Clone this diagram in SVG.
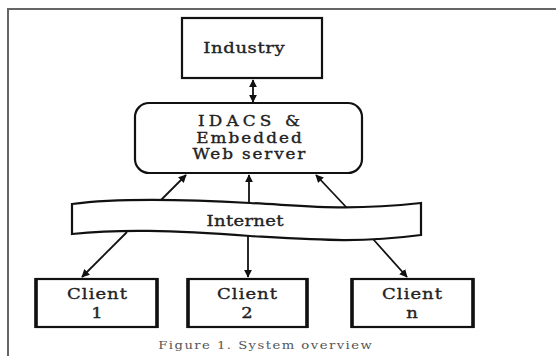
<svg xmlns="http://www.w3.org/2000/svg" width="556" height="356" viewBox="0 0 556 356">
  <style>
    .box { fill: #fff; stroke: #111; stroke-width: 2.2; }
    .client { fill: #fff; stroke: #111; stroke-width: 2.2; }
    .side { stroke: #111; stroke-width: 3.6; }
    .lbl { font-family: "DejaVu Serif", "Liberation Serif", serif; font-size: 15px; fill: #222; stroke: #222; stroke-width: 0.35; text-anchor: middle; }
    .sm { font-size: 14px; }
    .cap { font-family: "DejaVu Serif", "Liberation Serif", serif; font-size: 11px; fill: #555; text-anchor: middle; }
    .conn { stroke: #111; stroke-width: 1.8; fill: none; }
  </style>
  <defs>
    <marker id="head" viewBox="0 0 10 10" refX="9" refY="5" markerWidth="8" markerHeight="8" markerUnits="userSpaceOnUse" orient="auto-start-reverse">
      <path d="M0,0 L10,5 L0,10 Z" fill="#111"/>
    </marker>
  </defs>

  <rect width="556" height="356" fill="#fff"/>
  <!-- frame -->
  <path d="M8,356 L8,9 L556,9" fill="none" stroke="#666" stroke-width="2"/>

  <!-- connectors -->
  <g id="connectors">
    <line class="conn" x1="253" y1="80" x2="253" y2="102" marker-start="url(#head)" marker-end="url(#head)"/>
    <line class="conn" x1="161" y1="200" x2="186" y2="175" marker-end="url(#head)"/>
    <line class="conn" x1="249" y1="203" x2="249" y2="175" marker-end="url(#head)"/>
    <line class="conn" x1="347" y1="208" x2="316" y2="175" marker-end="url(#head)"/>
    <line class="conn" x1="127" y1="232" x2="82" y2="277" marker-end="url(#head)"/>
    <line class="conn" x1="248" y1="236" x2="248" y2="277" marker-end="url(#head)"/>
    <line class="conn" x1="373" y1="239" x2="407" y2="277" marker-end="url(#head)"/>
  </g>

  <g id="industry">
    <rect class="box" x="182" y="18" width="140" height="60"/>
    <text class="lbl" transform="translate(244,53) scale(1.2,1)" textLength="68" lengthAdjust="spacing">Industry</text>
  </g>

  <g id="idacs">
    <rect class="box" x="135" y="103" width="227" height="70" rx="14" ry="14"/>
    <text class="lbl sm" transform="translate(249,126) scale(1.2,1)" textLength="85" lengthAdjust="spacing">IDACS &amp;</text>
    <text class="lbl sm" transform="translate(249,142.5) scale(1.2,1)" textLength="88" lengthAdjust="spacing">Embedded</text>
    <text class="lbl sm" transform="translate(249,159) scale(1.2,1)" textLength="94" lengthAdjust="spacing">Web server</text>
  </g>

  <g id="internet">
    <path class="box" stroke-width="2" d="M72,204 C110,199 160,198 250,203 C310,206 345,211 421,203 L421,235 C360,243 320,240 250,236 C170,230 120,229 72,234 Z"/>
    <text class="lbl" transform="translate(245,226) scale(1.2,1)" textLength="64" lengthAdjust="spacing">Internet</text>
  </g>

  <g id="client1">
    <rect class="client" x="36" y="279" width="121" height="48"/>
    <path class="side" d="M36,278 V328 M157,278 V328"/>
    <text class="lbl" transform="translate(97,299) scale(1.2,1)" textLength="50" lengthAdjust="spacing">Client</text>
    <text class="lbl" transform="translate(97,318) scale(1.2,1)">1</text>
  </g>

  <g id="client2">
    <rect class="client" x="188" y="279" width="119" height="48"/>
    <path class="side" d="M188,278 V328 M307,278 V328"/>
    <text class="lbl" transform="translate(247,299) scale(1.2,1)" textLength="50" lengthAdjust="spacing">Client</text>
    <text class="lbl" transform="translate(247,318) scale(1.2,1)">2</text>
  </g>

  <g id="clientn">
    <rect class="client" x="352" y="279" width="121" height="48"/>
    <path class="side" d="M352,278 V328 M473,278 V328"/>
    <text class="lbl" transform="translate(412,299) scale(1.2,1)" textLength="50" lengthAdjust="spacing">Client</text>
    <text class="lbl" transform="translate(412,318) scale(1.2,1)">n</text>
  </g>

  <text class="cap" transform="translate(265,349) scale(1.2,1)" textLength="178" lengthAdjust="spacing">Figure 1. System overview</text>
</svg>
